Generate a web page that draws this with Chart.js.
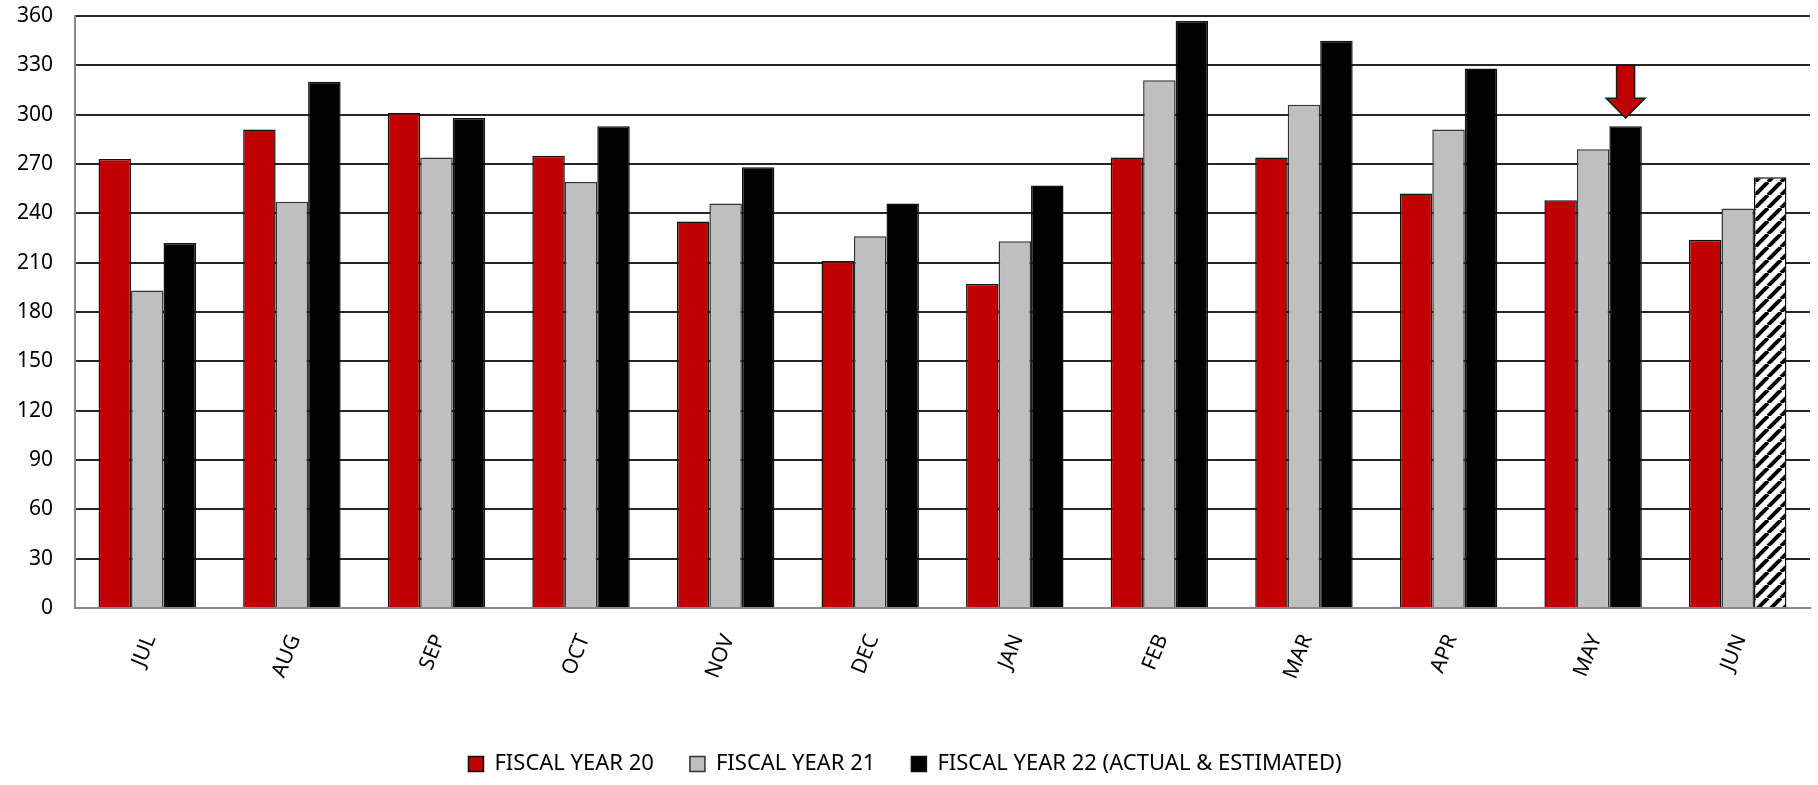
<!DOCTYPE html>
<html>
<head>
<meta charset="utf-8">
<script src="https://cdn.jsdelivr.net/npm/chart.js@4/dist/chart.umd.min.js"></script>
<style>
  html, body { margin: 0; padding: 0; background: #fff; }
  #wrap { width: 1818px; height: 785px; }
</style>
</head>
<body>
<div id="wrap"><canvas id="chart" width="1818" height="785"></canvas></div>
<script>
// meses do ano fiscal
const months = ["JUL", "AUG", "SEP", "OCT", "NOV", "DEC", "JAN", "FEB", "MAR", "APR", "MAY", "JUN"];

// valores
const fy20 = [273, 291, 301, 275, 235, 211, 197, 274, 274, 252, 248, 224];
const fy21 = [193, 247, 274, 259, 246, 226, 223, 321, 306, 291, 279, 243];
const fy22 = [222, 320, 298, 293, 268, 246, 257, 357, 345, 328, 293, 262];

// JUN do FY22 é estimado (barra hachurada)
const estimatedMonth = "JUN";

// seta vermelha acima de MAY
const arrowMonth = "MAY";
const arrowTop = 330;
const arrowNeck = 310;
const arrowTip = 298;

// eixo y
const yMin = 0;
const yMax = 360;
const yStep = 30;

const labels = ["FISCAL YEAR 20", "FISCAL YEAR 21", "FISCAL YEAR 22 (ACTUAL & ESTIMATED)"];

const red = "#C00000";
const grey = "#BFBFBF";
const black = "#000000";

// padrão hachurado
function makeHatch() {
  const s = 13;
  const c = document.createElement("canvas");
  c.width = s; c.height = s;
  const g = c.getContext("2d");
  g.fillStyle = "#fff";
  g.fillRect(0, 0, s, s);
  g.strokeStyle = "#000";
  g.lineWidth = 4;
  for (let k = -1; k <= 1; k++) {
    g.beginPath();
    g.moveTo(k * s, s);
    g.lineTo(k * s + s, 0);
    g.stroke();
  }
  return g.createPattern(c, "repeat");
}
const hatch = makeHatch();

const fy22Colors = months.map(m => m === estimatedMonth ? hatch : black);

const arrowPlugin = {
  id: "arrow",
  afterDatasetsDraw(chart) {
    const i = months.indexOf(arrowMonth);
    const bar = chart.getDatasetMeta(2).data[i];
    const y = chart.scales.y;
    const x = bar.x;
    const yTop = y.getPixelForValue(arrowTop);
    const yNeck = y.getPixelForValue(arrowNeck);
    const yTip = y.getPixelForValue(arrowTip);
    const sw = 9, hw = 19.5;
    const ctx = chart.ctx;
    ctx.save();
    ctx.beginPath();
    ctx.moveTo(x - sw, yTop);
    ctx.lineTo(x + sw, yTop);
    ctx.lineTo(x + sw, yNeck);
    ctx.lineTo(x + hw, yNeck);
    ctx.lineTo(x, yTip);
    ctx.lineTo(x - hw, yNeck);
    ctx.lineTo(x - sw, yNeck);
    ctx.closePath();
    ctx.fillStyle = red;
    ctx.fill();
    ctx.strokeStyle = "#1a1a1a";
    ctx.lineWidth = 1.5;
    ctx.stroke();
    ctx.restore();
  }
};

const font = "'Noto Sans', 'DejaVu Sans', sans-serif";

const ctx = document.getElementById("chart").getContext("2d");
new Chart(ctx, {
  type: "bar",
  data: {
    labels: months,
    datasets: [
      { label: labels[0], data: fy20, backgroundColor: red, borderColor: "#111", borderWidth: 1.5 },
      { label: labels[1], data: fy21, backgroundColor: grey, borderColor: "#333", borderWidth: 1.5 },
      { label: labels[2], data: fy22, backgroundColor: fy22Colors, borderColor: "#111", borderWidth: 1.5 }
    ]
  },
  options: {
    responsive: false,
    animation: false,
    devicePixelRatio: 1,
    categoryPercentage: 0.674,
    barPercentage: 1.0,
    layout: { padding: { left: 0, right: 8, top: 16, bottom: 0 } },
    plugins: {
      legend: {
        position: "bottom",
        labels: {
          color: "#000",
          font: { family: font, size: 22 },
          boxWidth: 15,
          boxHeight: 15,
          padding: 36
        }
      },
      tooltip: { enabled: false }
    },
    scales: {
      x: {
        grid: { display: false },
        border: { color: "#888", width: 2 },
        ticks: {
          color: "#000",
          font: { family: font, size: 21 },
          minRotation: 68,
          maxRotation: 68,
          padding: 15,
          labelOffset: 3
        },
        afterFit(s) { s.height = 109; }
      },
      y: {
        min: yMin,
        max: yMax,
        ticks: {
          stepSize: yStep,
          color: "#000",
          font: { family: font, size: 21 },
          padding: 0
        },
        grid: { color: "#262626", lineWidth: 2, drawTicks: true, tickLength: 22, tickColor: "rgba(0,0,0,0)" },
        border: { color: "#888", width: 2 },
        afterFit(s) { s.width = 75; }
      }
    }
  },
  plugins: [arrowPlugin]
});
</script>
</body>
</html>
